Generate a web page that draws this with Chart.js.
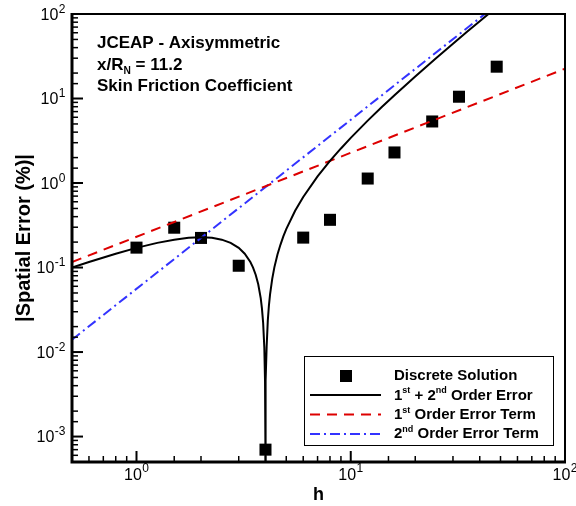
<!DOCTYPE html>
<html><head><meta charset="utf-8">
<script src="https://cdn.jsdelivr.net/npm/chart.js@4.4.0/dist/chart.umd.min.js"></script>
<style>html,body{margin:0;padding:0;background:#fff;}#wrap{width:576px;height:506px;position:relative;}</style>
</head><body><div id="wrap"><canvas id="c" width="576" height="506"></canvas></div>
<script>
// ---- data ----
const discreteH   = [1, 1.5, 2, 3, 4, 6, 8, 12, 16, 24, 32, 48];
const discreteErr = [0.172, 0.296, 0.224, 0.105, 0.0007, 0.226, 0.367, 1.13, 2.3, 5.35, 10.5, 23.8];

const combinedH   = [0.5, 0.6, 0.8, 1, 1.25, 1.5, 1.75, 2, 2.25, 2.5, 2.75, 3, 3.2, 3.4, 3.5, 3.6, 3.7, 3.8, 3.85, 3.9, 3.95, 3.98, 3.99, 4.0, 4.01, 4.02, 4.05, 4.1, 4.15, 4.2, 4.3, 4.4, 4.55, 4.7, 4.85, 5, 5.5, 6, 7, 8, 9, 10, 12, 14, 16, 20, 25, 30, 35, 40, 45];
const combinedErr = [0.0998, 0.1163, 0.1459, 0.171, 0.1959, 0.2138, 0.2244, 0.228, 0.2244, 0.2138, 0.1959, 0.171, 0.1459, 0.1163, 0.0998, 0.0821, 0.0633, 0.0434, 0.0329, 0.0222, 0.0113, 0.00454, 0.00227, 0.0003, 0.00229, 0.00458, 0.01154, 0.0234, 0.0355, 0.0479, 0.0735, 0.1004, 0.1426, 0.187, 0.235, 0.285, 0.470, 0.684, 1.197, 1.824, 2.565, 3.42, 5.47, 7.98, 10.94, 18.24, 29.9, 44.5, 61.9, 82.1, 105.2];

const firstOrderH    = [0.5, 100];
const firstOrderErr  = [0.116, 22.5];
const secondOrderH   = [0.5, 50];
const secondOrderErr = [0.014, 140];

const xTickValues    = [1, 10, 100];
const xTickExponents = ['0', '1', '2'];
const yTickValues    = [0.001, 0.01, 0.1, 1, 10, 100];
const yTickExponents = ['-3', '-2', '-1', '0', '1', '2'];

const FONT = '"Liberation Sans", Arial, Helvetica, sans-serif';

function pts(xs, ys){ return xs.map((x,i)=>({x:x, y:ys[i]})); }
function findIdx(values, v){
  for (let i=0;i<values.length;i++){ if (Math.abs(v-values[i]) <= values[i]*1e-6) return i; }
  return -1;
}
function isDecade(v){ const l=Math.log10(v); return Math.abs(l-Math.round(l))<1e-6; }

function richText(ctx, parts, x, y, size){
  let cx = x;
  for (const p of parts){
    const s = p.s ? size*0.6 : size;
    ctx.font = 'bold ' + s + 'px ' + FONT;
    const dy = p.s === 'sup' ? -size*0.42 : (p.s === 'sub' ? size*0.22 : 0);
    ctx.fillText(p.t, cx, y + dy);
    cx += ctx.measureText(p.t).width;
  }
}
// power-of-ten label: "10" with raised exponent
function powLabel(ctx, exp, x, y, align, raise){
  ctx.font = '16px ' + FONT;
  const wb = ctx.measureText('10').width;
  ctx.font = '12px ' + FONT;
  const we = ctx.measureText(exp).width;
  const w = wb + we + 0.5;
  let x0 = align === 'center' ? x - w/2 : x - w;
  ctx.textAlign = 'left';
  ctx.font = '16px ' + FONT;
  ctx.fillText('10', x0, y);
  ctx.font = '12px ' + FONT;
  ctx.fillText(exp, x0 + wb + 0.5, y - raise);
}

const framePlugin = {
  id: 'frame',
  afterDatasetsDraw(chart){
    const ctx = chart.ctx, a = chart.chartArea;
    const xs = chart.scales.x, ys = chart.scales.y;
    ctx.save();
    ctx.strokeStyle = '#000';
    ctx.fillStyle = '#000';
    ctx.textBaseline = 'alphabetic';
    // inward ticks + labels
    for (const t of xs.ticks){
      const px = xs.getPixelForValue(t.value);
      if (px < a.left-0.5 || px > a.right+0.5) continue;
      const major = isDecade(t.value);
      ctx.lineWidth = major ? 2 : 1.5;
      ctx.beginPath(); ctx.moveTo(px, a.bottom); ctx.lineTo(px, a.bottom - (major ? 11 : 6)); ctx.stroke();
      const k = findIdx(xTickValues, t.value);
      if (k >= 0) powLabel(ctx, xTickExponents[k], px, a.bottom + 18, 'center', 8);
    }
    for (const t of ys.ticks){
      const py = ys.getPixelForValue(t.value);
      if (py < a.top-0.5 || py > a.bottom+0.5) continue;
      const major = isDecade(t.value);
      ctx.lineWidth = major ? 2 : 1.5;
      ctx.beginPath(); ctx.moveTo(a.left, py); ctx.lineTo(a.left + (major ? 11 : 6), py); ctx.stroke();
      const k = findIdx(yTickValues, t.value);
      if (k >= 0) powLabel(ctx, yTickExponents[k], a.left - 6.5, py + 5.5, 'right', 7);
    }
    // frame
    ctx.lineWidth = 2;
    ctx.beginPath(); ctx.moveTo(a.left, a.top); ctx.lineTo(a.right, a.top); ctx.lineTo(a.right, a.bottom); ctx.stroke();
    ctx.lineWidth = 3;
    ctx.beginPath(); ctx.moveTo(a.left, a.top-1); ctx.lineTo(a.left, a.bottom); ctx.lineTo(a.right+1, a.bottom); ctx.stroke();
    ctx.restore();
  },
  afterDraw(chart){
    const ctx = chart.ctx;
    ctx.save();
    ctx.fillStyle = '#000';
    ctx.textBaseline = 'alphabetic';
    ctx.textAlign = 'left';
    // annotation
    richText(ctx, [{t:'JCEAP - Axisymmetric'}], 97, 48, 17);
    richText(ctx, [{t:'x/R'}, {t:'N', s:'sub'}, {t:' = 11.2'}], 97, 70, 17);
    richText(ctx, [{t:'Skin Friction Coefficient'}], 97, 91, 17);
    // legend box
    ctx.fillStyle = '#fff';
    ctx.fillRect(304.5, 356.5, 249, 89);
    ctx.strokeStyle = '#000'; ctx.lineWidth = 1;
    ctx.strokeRect(304.5, 356.5, 249, 89);
    const ds = chart.data.datasets;
    ctx.fillStyle = '#000';
    ctx.fillRect(340, 370, 12, 12);
    const rows = [395, 414.5, 434];
    for (let i=1;i<=3;i++){
      ctx.strokeStyle = ds[i].borderColor;
      ctx.lineWidth = ds[i].borderWidth;
      ctx.setLineDash(ds[i].borderDash || []);
      ctx.beginPath(); ctx.moveTo(310, rows[i-1]); ctx.lineTo(381, rows[i-1]); ctx.stroke();
    }
    ctx.setLineDash([]);
    ctx.fillStyle = '#000';
    const tx = 394, ls = 15;
    richText(ctx, [{t:'Discrete Solution'}], tx, 380, ls);
    richText(ctx, [{t:'1'},{t:'st',s:'sup'},{t:' + 2'},{t:'nd',s:'sup'},{t:' Order Error'}], tx, 399.5, ls);
    richText(ctx, [{t:'1'},{t:'st',s:'sup'},{t:' Order Error Term'}], tx, 419, ls);
    richText(ctx, [{t:'2'},{t:'nd',s:'sup'},{t:' Order Error Term'}], tx, 438, ls);
    ctx.restore();
  }
};

new Chart(document.getElementById('c'), {
  type: 'scatter',
  data: { datasets: [
    { label: 'Discrete Solution', data: pts(discreteH, discreteErr), showLine: false,
      pointStyle: 'rect', pointRadius: 8.5, pointHoverRadius: 8.5, backgroundColor: '#000', borderColor: '#000', borderWidth: 0, order: 10 },
    { label: '1st + 2nd Order Error', data: pts(combinedH, combinedErr), showLine: true, pointRadius: 0,
      borderColor: '#000', borderWidth: 2, tension: 0, order: 1 },
    { label: '1st Order Error Term', data: pts(firstOrderH, firstOrderErr), showLine: true, pointRadius: 0,
      borderColor: '#dd0000', borderWidth: 2, borderDash: [10, 7], order: 2 },
    { label: '2nd Order Error Term', data: pts(secondOrderH, secondOrderErr), showLine: true, pointRadius: 0,
      borderColor: '#3333ff', borderWidth: 2, borderDash: [10, 4, 2, 4], order: 3 }
  ]},
  options: {
    responsive: false, animation: false, devicePixelRatio: 1,
    layout: { padding: { top: 14, right: 11, left: 0, bottom: 0 } },
    plugins: { legend: { display: false }, tooltip: { enabled: false } },
    scales: {
      x: { type: 'logarithmic', min: 0.5, max: 100,
        grid: { display: false }, border: { display: false },
        ticks: { display: false, autoSkip: false },
        title: { display: true, text: 'h', color: '#000', font: { family: FONT, size: 18, weight: 'bold' }, padding: { top: 0, bottom: 0 } },
        afterFit(s){ s.height = 44; s.paddingLeft = 0; s.paddingRight = 0; } },
      y: { type: 'logarithmic', min: 0.0005, max: 100,
        grid: { display: false }, border: { display: false },
        ticks: { display: false, autoSkip: false },
        title: { display: true, text: '|Spatial Error (%)|', color: '#000', font: { family: FONT, size: 20, weight: 'bold' }, padding: { top: 12, bottom: 0 } },
        afterFit(s){ s.width = 72; s.paddingTop = 0; s.paddingBottom = 0; } }
    }
  },
  plugins: [framePlugin]
});
</script></body></html>
